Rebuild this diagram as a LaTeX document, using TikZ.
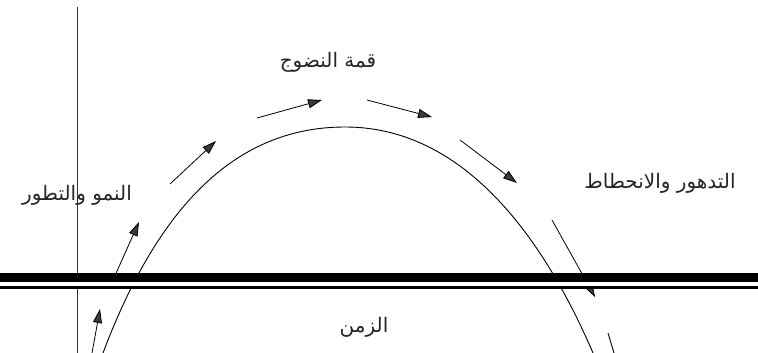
\documentclass[tikz,border=0pt]{standalone}
\usepackage{fontspec}
\newfontfamily\arabicfont[Script=Arabic]{DejaVu Sans}
\TeXXeTstate=1
\usetikzlibrary{arrows.meta}
\definecolor{headgray}{HTML}{3A3A3A}
\tikzset{
  lbl/.style={font=\arabicfont\fontsize{20}{24}\selectfont, inner sep=0pt, text=black!85},
  flow/.style={draw=black, line width=0.8pt, -{Triangle[length=14pt,width=9pt,fill=headgray]}},
  curveline/.style={draw=black, line width=0.9pt},
  axisline/.style={draw=black!80, line width=0.8pt},
}
\begin{document}
\begin{tikzpicture}[x=1pt,y=-1pt]
\useasboundingbox (0,0) rectangle (758,353);
\fill[white] (0,0) rectangle (758,353);
% axis
\coordinate (axtop) at (77,7);
\coordinate (axbot) at (77,353);
\draw[axisline] (axtop) -- (axbot);
% life-cycle curve
\coordinate (cstart) at (103,353);
\coordinate (cpeak) at (345,127);
\coordinate (cend) at (593,353);
\draw[curveline] (cstart) .. controls (155,215) and (230,127) .. (cpeak)
  .. controls (460,127) and (540,230) .. (cend);
% arrows
\coordinate (a1s) at (92,353);  \coordinate (a1e) at (100,309);
\coordinate (a2s) at (113,280); \coordinate (a2e) at (139,222);
\coordinate (a3s) at (170,184); \coordinate (a3e) at (216,141);
\coordinate (a4s) at (257,118); \coordinate (a4e) at (322,100);
\coordinate (a5s) at (367,100); \coordinate (a5e) at (432,117);
\coordinate (a6s) at (460,140); \coordinate (a6e) at (517,183);
\coordinate (a7s) at (552,220); \coordinate (a7e) at (595,297);
\foreach \i in {1,...,7} { \draw[flow] (a\i s) -- (a\i e); }
% short tick at bottom right
\coordinate (ts) at (608,333); \coordinate (te) at (614,353);
\draw[curveline] (ts) -- (te);
% labels
\node[lbl] (peak) at (328,62) {\beginR قمة النضوج\endR};
\node[lbl] (grow) at (77,195) {\beginR النمو والتطور\endR};
\node[lbl] (decl) at (660,183) {\beginR التدهور والانحطاط\endR};
\node[lbl] (time) at (364,327) {\beginR الزمن\endR};
% break bars
\fill[white] (0,282) rectangle (758,286);
\fill[black] (0,273) rectangle (758,282);
\fill[black] (0,286) rectangle (758,289);
\end{tikzpicture}
\end{document}
